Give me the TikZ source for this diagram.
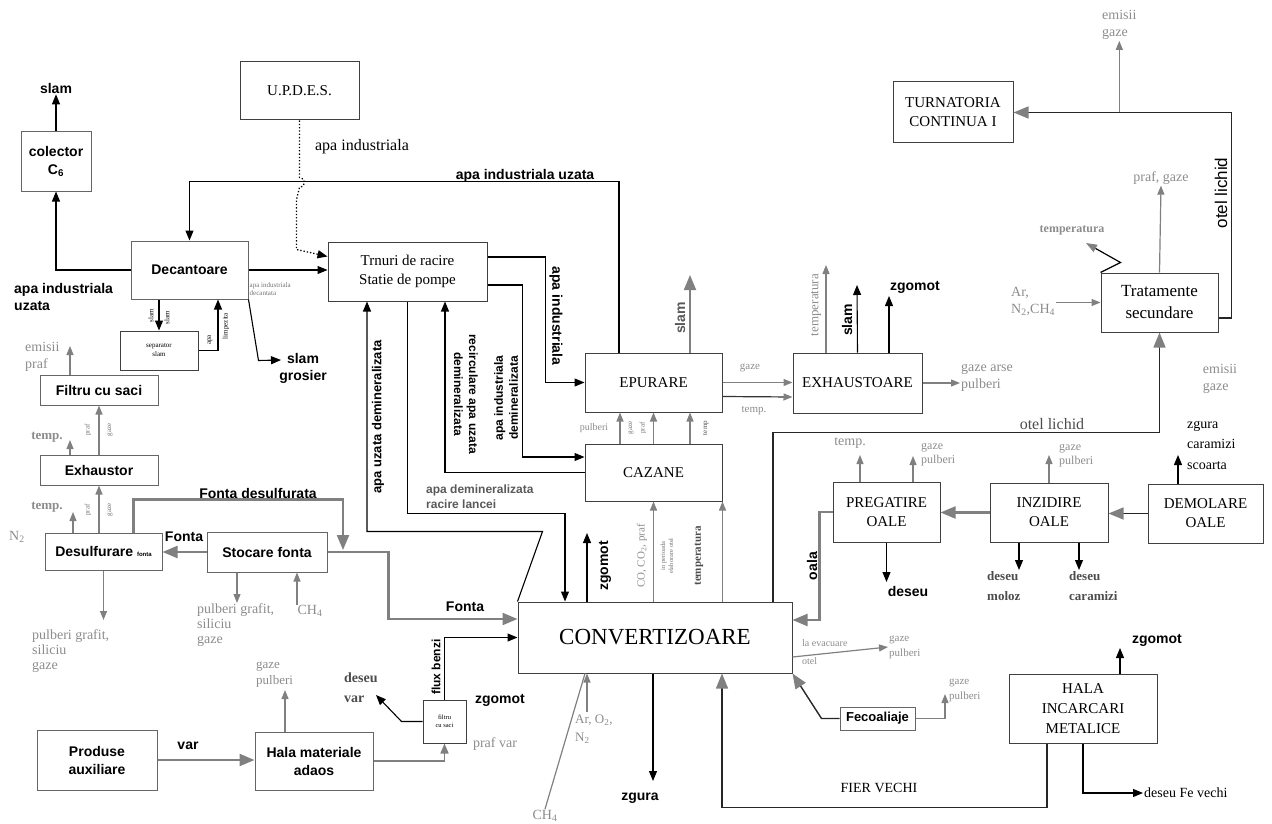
\documentclass[tikz,border=0pt]{standalone}
\usepackage{fontspec}
\setmainfont{Liberation Serif}
\setsansfont{Liberation Sans}
\usetikzlibrary{arrows.meta, calc}
\newcommand{\fsz}[2]{\fontsize{#1}{#2}\selectfont}

\begin{document}
\begin{tikzpicture}[x=1pt, y=-1pt,
    box/.style={draw=black!75, line width=1pt, fill=white, inner sep=1pt, align=center, font=\fsz{15}{19}},
    sbox/.style={box, draw=black!60, font=\sffamily\bfseries\fsz{14}{18}},
    bl/.style={font=\sffamily\bfseries\fsz{14}{17}, inner sep=1pt, align=center},
    gl/.style={text=black!45, font=\fsz{14}{17}, inner sep=1pt, align=left},
    dl/.style={gl, text=black!70},
    tl/.style={text=black!55, font=\fsz{7}{8}, inner sep=0.5pt, align=center},
    flow/.style={draw=black, line width=1.1pt, -{Triangle[length=10pt,width=8pt]}},
    gflow/.style={draw=black!50, line width=2.2pt, -{Triangle[length=15pt,width=12pt]}},
    gthin/.style={draw=black!50, line width=1.2pt, -{Triangle[length=9pt,width=7pt]}},
    mflow/.style={draw=black!85, line width=1.4pt, -{Triangle[length=15pt,width=12pt,color=black!50]}}]
  \useasboundingbox (0,0) rectangle (1272,824);

  % boxes
  \node[sbox, minimum width=70, minimum height=59] (colector) at (56,161.5) {colector\\C\textsubscript{6}};
  \node[box, minimum width=119, minimum height=58] (updes) at (299.5,91) {U.P.D.E.S.};
  \node[sbox, minimum width=117, minimum height=58] (dec) at (189.5,270) {Decantoare};
  \node[box, minimum width=159, minimum height=59] (turn) at (407.5,271.5) {Trnuri de racire\\Statie de pompe};
  \node[box, minimum width=78, minimum height=39, font=\fsz{7}{9}] (sep) at (159,350.5) {separator\\slam};
  \node[sbox, minimum width=118, minimum height=30] (filtru) at (99,390) {Filtru cu saci};
  \node[sbox, minimum width=118, minimum height=30] (exh) at (99,470) {Exhaustor};
  \node[sbox, minimum width=117, minimum height=37] (desulf) at (103.5,551.5) {Desulfurare {\fsz{6}{7}fonta}};
  \node[sbox, minimum width=120, minimum height=40] (stoc) at (267,552) {Stocare fonta};
  \node[sbox, minimum width=120, minimum height=60] (prod) at (97,760) {Produse\\auxiliare};
  \node[sbox, minimum width=118, minimum height=58] (hala) at (314,761) {Hala materiale\\adaos};
  \node[box, minimum width=43, minimum height=43, font=\fsz{6.5}{8}] (fsaci) at (444.5,721.5) {filtru\\cu saci};
  \node[box, minimum width=274, minimum height=71, font=\fsz{23}{26}] (conv) at (655,637.5) {CONVERTIZOARE};
  \node[box, minimum width=137, minimum height=59] (epur) at (653.5,382.5) {EPURARE};
  \node[box, minimum width=137, minimum height=57] (caz) at (653.5,472.5) {CAZANE};
  \node[box, minimum width=129, minimum height=60] (exha) at (857.5,383) {EXHAUSTOARE};
  \node[box, minimum width=120, minimum height=61] (turnat) at (953,112.5) {TURNATORIA\\CONTINUA I};
  \node[box, minimum width=117, minimum height=59, font=\fsz{17}{22}] (trat) at (1159.5,302.5) {Tratamente\\secundare};
  \node[box, minimum width=107, minimum height=60] (preg) at (886.5,512) {PREGATIRE\\OALE};
  \node[box, minimum width=118, minimum height=59] (inzid) at (1049,512.5) {INZIDIRE\\OALE};
  \node[box, minimum width=115, minimum height=59] (demol) at (1205.5,513.5) {DEMOLARE\\OALE};
  \node[box, minimum width=148, minimum height=69, font=\fsz{15}{20}] (halainc) at (1083,708.5) {HALA\\INCARCARI\\METALICE};
  \node[sbox, minimum width=75, minimum height=23, font=\sffamily\bfseries\fsz{13}{15}] (fecoal) at (877.5,718.5) {Fecoaliaje};

  % labels
  \node[bl] (lslam) at (56,88) {slam};
  \node[bl, align=left, anchor=west] (lapuz) at (13,297) {apa industriala\\uzata};
  \node[bl] (lapiu) at (525,176) {apa industriala uzata};
  \node[font=\fsz{16}{18}, inner sep=1pt] (lapi) at (362,147) {apa industriala};
  \node[tl, anchor=west, align=left] (lapdec) at (249,289) {apa industriala\\decantata};
  \node[tl, rotate=90, text=black] (lsl1) at (151,316) {slam};
  \node[tl, rotate=90, text=black] (lsl2) at (167,318) {slam};
  \node[tl, rotate=90, text=black] (lapa) at (210,340) {apa};
  \node[tl, rotate=90, text=black] (llimp) at (226,326) {limpezita};
  \node[bl] (lgros) at (303,368) {slam\\grosier};
  \coordinate (cgros) at (281,360);

  \node[gl, anchor=west] (lemp) at (24,357) {emisii\\praf};
  \coordinate (cemp) at (70,346);
  \node[tl, rotate=90] (lpr1) at (88,430) {praf};
  \node[tl, rotate=90] (lgz1) at (110,430) {gaze};
  \node[gl, font=\bfseries\fsz{13}{15}] (ltp1) at (47,437) {temp.};
  \coordinate (ct1) at (70,440);
  \node[tl, rotate=90] (lpr2) at (88,510) {praf};
  \node[tl, rotate=90] (lgz2) at (110,510) {gaze};
  \node[gl, font=\bfseries\fsz{13}{15}] (ltp2) at (47,507) {temp.};
  \coordinate (ct2) at (73,512);
  \node[gl] (ln2) at (17,537) {N\textsubscript{2}};

  \node[bl, anchor=south] (lfd) at (258,500) {Fonta desulfurata};
  \coordinate (cfd) at (343,550);
  \node[bl] (lf1) at (184,537) {Fonta};
  \node[bl] (lf2) at (465,607) {Fonta};
  \node[gl, anchor=north west, font=\fsz{14}{15}] (lpg1) at (31,628) {pulberi grafit,\\siliciu\\gaze};
  \coordinate (cds) at (103.5,620);
  \node[gl, anchor=north west, font=\fsz{14}{15}] (lpg2) at (196,602) {pulberi grafit,\\siliciu\\gaze};
  \coordinate (css) at (237,603);
  \node[gl] (lch1) at (310,611) {CH\textsubscript{4}};
  \coordinate (cch) at (297,605);

  \node[gl, anchor=south west, font=\fsz{13}{16}] (lgp0) at (255,688) {gaze\\pulberi};
  \coordinate (chg) at (285,690);
  \node[bl] (lvar) at (188,746) {var};
  \node[gl] (lpv) at (495,744) {praf var};
  \node[bl] (lzg2) at (500,700) {zgomot};
  \node[dl, anchor=west, font=\bfseries\fsz{14}{20}] (ldv) at (343,688) {deseu\\var};
  \coordinate (cdv) at (376,695);
  \node[bl, rotate=90, font=\sffamily\bfseries\fsz{12}{14}] (lflux) at (436,667) {flux benzi};

  \node[bl, rotate=90, font=\sffamily\bfseries\fsz{13}{15}] (laud) at (378,417) {apa uzata demineralizata};
  \node[bl, anchor=west, align=left, text=black!65, font=\sffamily\bfseries\fsz{12}{15}] (lrac) at (425,497) {apa demineralizata\\racire lancei};
  \node[bl, rotate=90, font=\sffamily\bfseries\fsz{12}{15}] (laid) at (506,398) {apa industriala\\demineralizata};
  \node[bl, rotate=-90] (lai) at (556,316) {apa industriala};
  \node[bl, rotate=-90, font=\sffamily\bfseries\fsz{12}{15}] (lrec) at (466,394) {recirculare apa uzata\\demineralizata};

  \node[bl, rotate=90, text=black!65] (lsl3) at (680,318) {slam};
  \coordinate (ces) at (690,275);
  \node[gl, font=\fsz{10}{12}] (lpul) at (594,428) {pulberi};
  \node[tl, rotate=90] (lgz3) at (631,428) {gaze};
  \node[tl, rotate=90] (lpr3) at (643,428) {praf};
  \node[tl, rotate=90, text=black!70] (ltp3) at (706,428) {temp};
  \node[gl, font=\fsz{11}{13}] (lgz4) at (750,368) {gaze};
  \node[gl, font=\fsz{11}{13}] (ltp4) at (754,411) {temp.};
  \node[gl, rotate=90, font=\fsz{13}{15}] (ltmp5) at (816,305) {temperatura};
  \coordinate (cet) at (826,265);
  \node[bl, rotate=90] (lsl4) at (847,320) {slam};
  \coordinate (ces2) at (857,285);
  \node[bl] (lzg1) at (915,287) {zgomot};
  \coordinate (czg1) at (889,296);
  \node[gl, anchor=west] (lga) at (960,378) {gaze arse\\pulberi};

  \node[dl, font=\fsz{16}{18}] (lotel1) at (1052,424) {otel lichid};
  \node[gl, anchor=west] (larn) at (1010,301) {Ar,\\N\textsubscript{2},CH\textsubscript{4}};
  \node[rotate=90, font=\sffamily\fsz{17}{19}, inner sep=1pt] (lotel2) at (1221,193) {otel lichid};
  \node[gl, anchor=west] (lemg) at (1101,25) {emisii\\gaze};
  \node[gl] (lpgz) at (1161,178) {praf, gaze};
  \node[gl, font=\bfseries\fsz{12}{14}] (ltemp) at (1072,230) {temperatura};
  \coordinate (ctz) at (1086,243);

  \node[font=\fsz{14}{20.5}, align=left, anchor=north west, inner sep=1pt] (lzcs) at (1186,420) {zgura\\caramizi\\scoarta};
  \coordinate (cdz) at (1178,455);
  \node[gl] (lemg2) at (1220,379) {emisii\\gaze};
  \node[gl, anchor=west, font=\fsz{12}{14}] (lgp3) at (1058,456) {gaze\\pulberi};
  \coordinate (cip) at (1049,455);
  \node[gl] (ltp6) at (850,443) {temp.};
  \coordinate (ctp) at (860,455);
  \node[gl, anchor=west, font=\fsz{12}{14}] (lgp6) at (920,455) {gaze\\pulberi};
  \coordinate (cpg) at (913,456);
  \node[bl, rotate=90] (loala) at (812,566) {oala};
  \node[bl] (ldes) at (908,591) {deseu};
  \coordinate (cdes) at (886.5,582);
  \node[dl, anchor=north west, font=\bfseries\fsz{13}{20}] (ldm) at (986,570) {deseu\\moloz};
  \coordinate (cim1) at (1019,570);
  \node[dl, anchor=north west, font=\bfseries\fsz{13}{20}] (ldc) at (1068,570) {deseu\\caramizi};
  \coordinate (cim2) at (1079,570);

  \node[gl, anchor=west, font=\fsz{10}{18}] (lev) at (801,652) {la evacuare\\otel};
  \node[gl, anchor=west, font=\fsz{11}{15}] (lgp4) at (888,647) {gaze\\pulberi};
  \node[gl, anchor=west, font=\fsz{11}{15}] (lgp5) at (948,690) {gaze\\pulberi};
  \coordinate (cfg) at (945,694);
  \node[font=\fsz{14}{16}, inner sep=1pt] (lfier) at (879,788) {FIER VECHI};
  \node[font=\fsz{14}{16}, anchor=west, inner sep=1pt] (ldfv) at (1143,793) {deseu Fe vechi};
  \node[bl] (lzg3) at (1157,640) {zgomot};
  \coordinate (czg3) at (1120,648);
  \node[bl] (lzgura) at (640,798) {zgura};
  \coordinate (czgura) at (653,781);
  \node[gl, anchor=north west, font=\fsz{13}{18}] (laro) at (574,714) {Ar, O\textsubscript{2},\\N\textsubscript{2}};
  \coordinate (car) at (587,712);
  \node[gl] (lch2) at (545,816) {CH\textsubscript{4}};
  \node[bl, rotate=90] (lzg4) at (605,566) {zgomot};
  \coordinate (czg4) at (587,533);
  \node[gl, rotate=90, font=\fsz{11}{13}] (lco) at (642,556) {CO, CO\textsubscript{2}, praf};
  \node[tl, rotate=90, font=\fsz{6.5}{8}] (lper) at (667,556) {in perioada\\elaborare otel};
  \node[bl, rotate=90, text=black!70, font=\bfseries\fsz{11}{13}] (ltmp7) at (699,556) {temperatura};

  % connectors, water
  \draw[flow] (colector.north) -- (lslam.south);
  \draw[flow] (dec.west) -| (colector.south);
  \draw[flow] ([xshift=-34.5]epur.north) -- ++(0,-171) -| (dec.north);
  \draw[dotted, line width=1.3pt, -{Triangle[length=10pt,width=8pt]}] (updes.south) -- ++(0,57)
    arc[start angle=90, end angle=-90, radius=5pt] -- ++(-3,12) -- ++(0,50) -- ([yshift=15]turn.west);
  \draw[flow] (dec.east) -- (dec.east -| turn.west);
  \draw[flow] (sep.north |- dec.south) -- (sep.north);
  \draw[flow] (sep.east) -| ([xshift=28.5]dec.south);
  \draw[flow] (dec.south east) -- ++(10,61) -- (cgros);
  \draw[flow] (conv.north west) -- ++(25,-70) -| ([xshift=-40.5]turn.south);
  \draw[flow] (turn.south) -- ++(0,212) -| ([xshift=-90]conv.north);
  \draw[flow] ([yshift=-13.5]turn.east) -- ++(35,0) |- ([yshift=15.5]caz.west);
  \draw[flow] ([yshift=14.5]turn.east) -- ++(58,0) |- (epur.west);
  \draw[flow] (caz.west) -| ([xshift=37.5]turn.south);

  % connectors, hot metal
  \draw[gthin] ([xshift=-29]filtru.north) -- (cemp);
  \draw[gthin] (exh.north) -- (filtru.south);
  \draw[gthin] ([xshift=-29]exh.north) -- (ct1);
  \draw[gthin] (exh.south |- desulf.north) -- (exh.south);
  \draw[gthin] ([xshift=-30.5]desulf.north) -- (ct2);
  \draw[gflow] ([xshift=30]desulf.north) -- ++(0,-33) -| (cfd);
  \draw[gflow] (stoc.west) -- (stoc.west -| desulf.east);
  \draw[gflow] (stoc.east) -- ++(61,0) |- ([yshift=18.5]conv.west);
  \draw[gthin] (desulf.south) -- (cds);
  \draw[gthin] ([xshift=-30]stoc.south) -- (css);
  \draw[gthin] (cch) -- ([xshift=30]stoc.south);
  \draw[gthin] ([xshift=-29]hala.north) -- (chg);
  \draw[gflow] (prod.east) -- (prod.east -| hala.west);
  \draw[gflow, line width=1.5pt, -{Triangle[length=10pt,width=8pt]}] (hala.east) -| (fsaci.south);
  \draw[flow] (fsaci.west) -- ++(-21,0) -- (cdv);
  \draw[flow] (fsaci.north) |- (conv.west);

  % connectors, gas treatment
  \draw[gflow, line width=1.8pt] ([xshift=36.5]epur.north) -- (ces);
  \draw[gthin] ([xshift=-33.5]caz.north) -- ([xshift=-33.5]epur.south);
  \draw[gthin] (caz.north) -- (epur.south);
  \draw[gthin] ([xshift=36.5]caz.north) -- ([xshift=36.5]epur.south);
  \draw[gthin] (epur.east) -- (epur.east -| exha.west);
  \draw[gthin, draw=black!80, -{Triangle[length=9pt,width=7pt,color=black!50]}] ([yshift=-14]epur.east) -- ([yshift=-14]exha.west);
  \draw[gthin] ([xshift=-31.5]exha.north) -- (cet);
  \draw[flow] (exha.north) -- (ces2);
  \draw[flow] ([xshift=31.5]exha.north) -- (czg1);
  \draw[gthin] (exha.east) -- (exha.east -| lga.west);
  \draw[gthin] (caz.south |- conv.north) -- (caz.south);
  \draw[gthin] (caz.south east |- conv.north) -- (caz.south east);
  \draw[flow] ([xshift=-68]conv.north) -- (czg4);

  % connectors, steel and ladles
  \draw[mflow] ([xshift=118]conv.north) -- ++(0,-169) -| (trat.south);
  \draw[gthin] (larn.east |- trat.west) -- (trat.west);
  \draw[mflow] ([yshift=-15.5]trat.east) -- ++(13,0) |- (turnat.east);
  \draw[gthin] (turnat.east -| lemg.south) -- (lemg.south);
  \draw[gthin] (trat.north) -- (lpgz.south);
  \draw[draw=black, line width=1.2pt, -{Triangle[length=11pt,width=8pt,color=black!50]}] (trat.north west) -- ++(20,-10) -- ++(-16,-9) -- (ctz);
  \draw[gflow] (inzid.west) -- (inzid.west -| preg.east);
  \draw[mflow] (demol.west) -- (demol.west -| inzid.east);
  \draw[flow] ([xshift=-27.5]demol.north) -- (cdz);
  \draw[gthin] (inzid.north) -- (cip);
  \draw[gthin] ([xshift=-26.5]preg.north) -- (ctp);
  \draw[gthin] ([xshift=26.5]preg.north) -- (cpg);
  \draw[gflow] (preg.west) -- ++(-13,0) |- ([yshift=17.5]conv.east);
  \draw[flow] (preg.south) -- (cdes);
  \draw[flow] ([xshift=-30]inzid.south) -- (cim1);
  \draw[flow] ([xshift=30]inzid.south) -- (cim2);

  % connectors, converter floor
  \draw[gthin] ([yshift=-19.5]conv.east) -- (lgp4.west);
  \draw[mflow] (fecoal.west) -- ++(-18,0) -- (conv.south east);
  \draw[gthin] (fecoal.east) -| (cfg);
  \draw[mflow] ([xshift=-36]halainc.south) -- ++(0,64) -| ([xshift=67]conv.south);
  \draw[flow] (halainc.south) |- (ldfv.west);
  \draw[flow] ([xshift=37]halainc.north) -- (czg3);
  \draw[flow] ([xshift=-2]conv.south) -- (czgura);
  \draw[gthin] (car) -- ([xshift=-68]conv.south);
  \draw[gthin, -] (lch2.north) -- ([xshift=-70]conv.south);
\end{tikzpicture}
\end{document}
